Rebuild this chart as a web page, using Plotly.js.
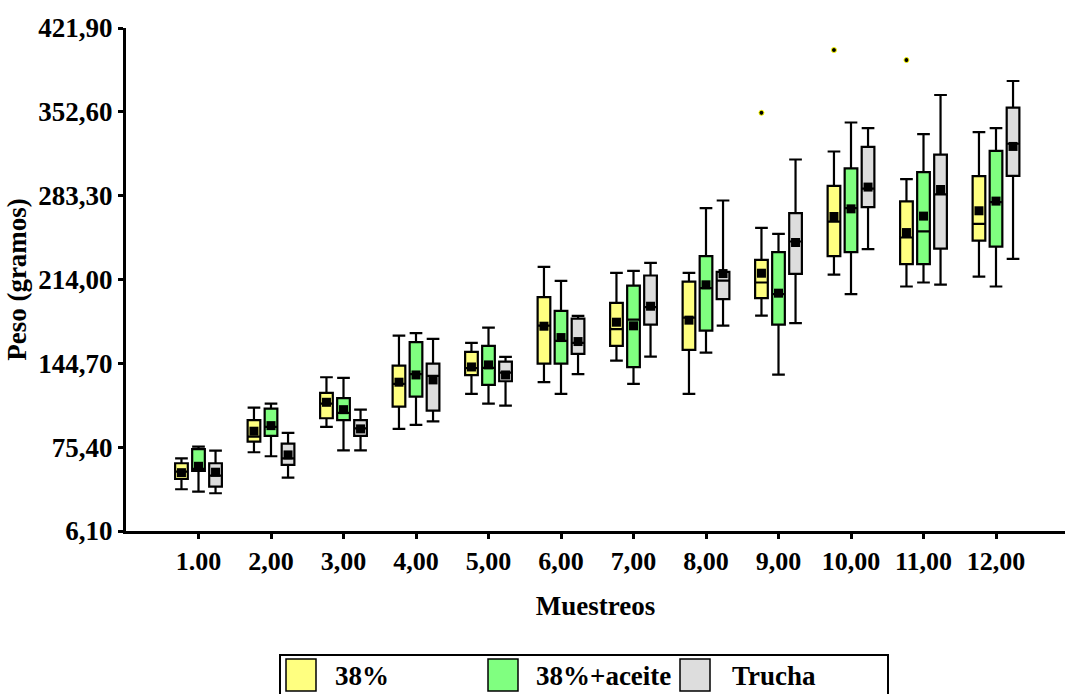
<!DOCTYPE html>
<html>
<head>
<meta charset="utf-8">
<script src="https://cdn.plot.ly/plotly-3.0.1.min.js"></script>
<style>html,body{margin:0;padding:0;background:#fff;}#chart{width:1065px;height:694px;}</style>
</head>
<body>
<div id="chart"></div>
<script>
// ---- data ----
const categories = [1,2,3,4,5,6,7,8,9,10,11,12];
const xTickLabels = ["1.00","2,00","3,00","4,00","5,00","6,00","7,00","8,00","9,00","10,00","11,00","12,00"];
const yTickVals = [6.1, 75.4, 144.7, 214.0, 283.3, 352.6, 421.9];
const yTickLabels = ["6,10","75,40","144,70","214,00","283,30","352,60","421,90"];
const seriesNames = ["38%", "38%+aceite", "Trucha"];

// 38%
const s1Low    = [40.6, 71.2, 92.1, 90.5, 119.4, 129.1, 147.0, 119.4, 184.2, 218.1, 208.2, 216.4];
const s1Q1     = [49.1, 80.0, 99.3, 108.9, 134.9, 144.5, 159.1, 155.8, 198.6, 233.3, 226.7, 246.2];
const s1Median = [55.1, 84.1, 111.4, 127.7, 140.7, 175.9, 172.9, 182.5, 211.5, 261.9, 248.7, 260.0];
const s1Q3     = [62.1, 97.7, 120.2, 142.8, 154.1, 199.4, 194.7, 212.3, 230.2, 291.4, 278.5, 299.5];
const s1High   = [66.2, 108.1, 133.2, 167.6, 161.6, 224.5, 219.5, 219.5, 256.7, 319.8, 297.0, 335.9];
const s1Mean   = [54.3, 88.6, 112.5, 129.1, 141.7, 175.4, 178.7, 180.4, 219.2, 266.1, 252.8, 270.8];
const s1OutlierCat = [9, 10, 11];
const s1OutlierVal = [351.8, 403.7, 395.4];

// 38%+aceite
const s2Low    = [38.6, 67.9, 72.8, 93.8, 111.4, 119.4, 127.7, 153.6, 135.4, 201.9, 211.5, 208.2];
const s2Q1     = [55.7, 84.7, 97.7, 117.2, 126.9, 144.5, 141.5, 171.8, 176.7, 236.6, 226.7, 241.2];
const s2Median = [57.5, 92.1, 103.7, 135.7, 140.9, 163.2, 180.9, 206.8, 201.9, 273.0, 253.7, 278.0];
const s2Q3     = [73.7, 107.3, 115.9, 162.2, 159.1, 188.1, 209.0, 233.3, 236.6, 305.8, 302.8, 320.4];
const s2High   = [75.8, 111.4, 132.6, 169.6, 174.3, 212.9, 221.1, 273.0, 251.7, 343.8, 334.2, 339.2];
const s2Mean   = [59.6, 93.2, 106.4, 135.1, 143.4, 166.0, 175.7, 209.6, 202.7, 272.4, 266.4, 278.8];

// Trucha
const s3Low    = [37.3, 50.2, 72.8, 96.8, 109.7, 135.7, 150.3, 175.9, 177.9, 239.1, 209.8, 231.1];
const s3Q1     = [42.7, 60.7, 84.7, 105.6, 129.9, 152.5, 176.7, 197.7, 218.7, 273.8, 239.6, 299.7];
const s3Median = [51.8, 66.2, 91.0, 134.3, 137.0, 161.6, 191.1, 213.1, 245.4, 289.2, 284.3, 326.2];
const s3Q3     = [62.1, 78.3, 97.7, 144.5, 146.1, 181.7, 217.3, 220.3, 268.9, 323.7, 317.3, 356.0];
const s3High   = [72.5, 87.2, 106.4, 164.9, 150.0, 183.9, 227.8, 279.3, 313.2, 339.2, 366.5, 378.1];
const s3Mean   = [54.7, 69.0, 90.5, 131.0, 135.1, 162.7, 191.9, 218.9, 244.6, 290.4, 288.4, 324.0];

// ---- styles ----
const fills = ["rgb(255,255,128)", "rgb(128,255,128)", "rgb(221,221,221)"];
const offsets = [-0.235, 0, 0.235];
const boxWidth = 0.175;
const FONT = "Liberation Serif";

const series = [
  {low:s1Low, q1:s1Q1, med:s1Median, q3:s1Q3, high:s1High, mean:s1Mean},
  {low:s2Low, q1:s2Q1, med:s2Median, q3:s2Q3, high:s2High, mean:s2Mean},
  {low:s3Low, q1:s3Q1, med:s3Median, q3:s3Q3, high:s3High, mean:s3Mean}
];

const traces = [];
series.forEach((s, i) => {
  const xs = categories.map(c => c + offsets[i]);
  traces.push({
    type: 'box', name: seriesNames[i], x: xs,
    q1: s.q1, median: s.med, q3: s.q3, lowerfence: s.low, upperfence: s.high,
    width: boxWidth, whiskerwidth: 1,
    fillcolor: fills[i], line: {color: 'black', width: 2.2},
    boxpoints: false, showlegend: false, hoverinfo: 'skip'
  });
  traces.push({
    type: 'scatter', mode: 'markers', x: xs, y: s.mean, showlegend: false,
    marker: {symbol: 'square', size: 9, color: 'black'}, hoverinfo: 'skip'
  });
});
traces.push({
  type: 'scatter', mode: 'markers',
  x: s1OutlierCat.map(c => c + offsets[0]), y: s1OutlierVal, showlegend: false,
  marker: {symbol: 'circle', size: 5, color: 'black', line: {color: 'rgb(255,255,0)', width: 1}},
  hoverinfo: 'skip'
});

// custom legend (paper coordinates)
const L = 126, W = 939, T = 28, H = 503;
const xp = px => (px - L) / W;
const yp = py => (T + H - py) / H;
const legendSwatchX = [286, 488, 680];
const legendTextX = [333, 534, 730];
const shapes = [{
  type: 'rect', xref: 'paper', yref: 'paper',
  x0: xp(280), x1: xp(888), y0: yp(720), y1: yp(655),
  line: {color: 'black', width: 2}, fillcolor: 'white', layer: 'above'
}];
const annotations = [];
seriesNames.forEach((n, i) => {
  shapes.push({
    type: 'rect', xref: 'paper', yref: 'paper',
    x0: xp(legendSwatchX[i]), x1: xp(legendSwatchX[i] + 30), y0: yp(691), y1: yp(659),
    line: {color: 'black', width: 1.5}, fillcolor: fills[i], layer: 'above'
  });
  annotations.push({
    xref: 'paper', yref: 'paper', x: xp(legendTextX[i]), y: yp(676),
    xanchor: 'left', yanchor: 'middle', text: n, showarrow: false,
    font: {family: FONT, size: 27, color: 'black', weight: 700}
  });
});

const layout = {
  width: 1065, height: 694,
  margin: {l: L, r: 0, t: T, b: 694 - T - H, pad: 0},
  paper_bgcolor: 'white', plot_bgcolor: 'white',
  showlegend: false, boxmode: 'overlay',
  font: {family: FONT, color: 'black', weight: 700},
  xaxis: {
    range: [0, W / 72.5], tickvals: categories, ticktext: xTickLabels,
    showline: true, linecolor: 'black', linewidth: 3, ticks: 'outside', ticklen: 5, tickwidth: 3,
    tickcolor: 'black', showgrid: false, zeroline: false, automargin: false,
    tickfont: {family: FONT, size: 26, color: 'black', weight: 700},
    title: {text: 'Muestreos', standoff: 21, font: {family: FONT, size: 27, color: 'black', weight: 700}}
  },
  yaxis: {
    range: [6.1, 421.9], tickvals: yTickVals, ticktext: yTickLabels,
    showline: true, linecolor: 'black', linewidth: 3, ticks: 'outside', ticklen: 5, tickwidth: 3,
    tickcolor: 'black', showgrid: false, zeroline: false, automargin: false,
    tickfont: {family: FONT, size: 27, color: 'black', weight: 700},
    title: {text: 'Peso (gramos)', standoff: 4, font: {family: FONT, size: 27, color: 'black', weight: 700}}
  },
  shapes: shapes, annotations: annotations
};

Plotly.newPlot('chart', traces, layout, {displayModeBar: false, staticPlot: true});
</script>
</body>
</html>
